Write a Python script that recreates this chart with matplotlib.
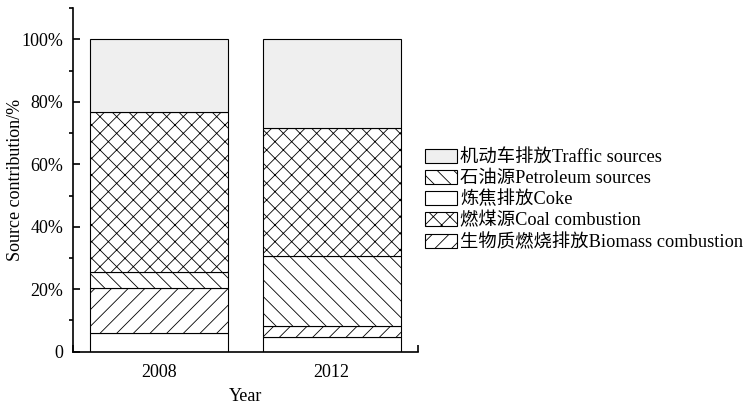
import matplotlib.pyplot as plt
from matplotlib.patches import Patch
from matplotlib.ticker import MultipleLocator, FuncFormatter

plt.rcParams['font.family'] = ['Liberation Serif', 'Noto Sans CJK SC']
plt.rcParams['hatch.linewidth'] = 0.6
plt.rcParams['hatch.color'] = '#333333'

years = ['2008', '2012']
# stacked bottom to top
coke = [5.9, 4.6]
biomass = [14.4, 3.6]
petroleum = [5.2, 22.3]
coal = [51.3, 41.2]
traffic = [23.2, 28.3]

labels = {
    'traffic': '机动车排放Traffic sources',
    'petroleum': '石油源Petroleum sources',
    'coke': '炼焦排放Coke',
    'coal': '燃煤源Coal combustion',
    'biomass': '生物质燃烧排放Biomass combustion',
}
styles = {
    'coke': dict(facecolor='white', hatch=None),
    'biomass': dict(facecolor='white', hatch='//'),
    'petroleum': dict(facecolor='white', hatch='\\\\'),
    'coal': dict(facecolor='white', hatch='xx'),
    'traffic': dict(facecolor='#efefef', hatch=None),
}
series = [('coke', coke), ('biomass', biomass), ('petroleum', petroleum),
          ('coal', coal), ('traffic', traffic)]

fig = plt.figure(figsize=(7.5, 4.08), dpi=100)
ax = fig.add_axes([0.097, 0.138, 0.46, 0.842])

x = [0, 1]
bottom = [0, 0]
for key, vals in series:
    ax.bar(x, vals, width=0.8, bottom=bottom, edgecolor='black', linewidth=0.8,
           **styles[key])
    bottom = [b + v for b, v in zip(bottom, vals)]

ax.set_xlim(-0.5, 1.5)
ax.set_ylim(0, 110)
ax.set_xticks(x)
ax.set_xticklabels(years)
ax.set_xticks([-0.5, 1.5], minor=True)
ax.yaxis.set_minor_locator(MultipleLocator(10))
ax.set_yticks([0, 20, 40, 60, 80, 100])
ax.yaxis.set_major_formatter(FuncFormatter(lambda v, p: '0' if v == 0 else f'{int(v)}%'))
ax.spines['top'].set_visible(False)
ax.spines['right'].set_visible(False)
ax.spines['left'].set_linewidth(1.2)
ax.spines['bottom'].set_linewidth(1.2)
ax.tick_params(axis='both', labelsize=13, length=5, width=1.2, direction='in')
ax.tick_params(axis='x', which='major', length=0, pad=9)
ax.tick_params(axis='x', which='minor', length=5, width=1.2, direction='in')
ax.tick_params(axis='y', which='major', pad=7)
ax.tick_params(axis='y', which='minor', length=3, width=1.2)
ax.set_xlabel('Year', fontsize=13, labelpad=5)
ax.set_ylabel('Source contribution/%', fontsize=13)
ax.yaxis.set_label_coords(-0.14, 0.5)

order = ['traffic', 'petroleum', 'coke', 'coal', 'biomass']
handles = [Patch(edgecolor='black', linewidth=0.8, label=labels[k], **styles[k]) for k in order]
fig.legend(handles=handles, loc='center left', bbox_to_anchor=(0.554, 0.51),
           frameon=False, fontsize=13.2, handlelength=1.75, handleheight=0.8,
           handletextpad=0.2, labelspacing=0.2, borderpad=0)

fig.savefig('out.png', dpi=100)
